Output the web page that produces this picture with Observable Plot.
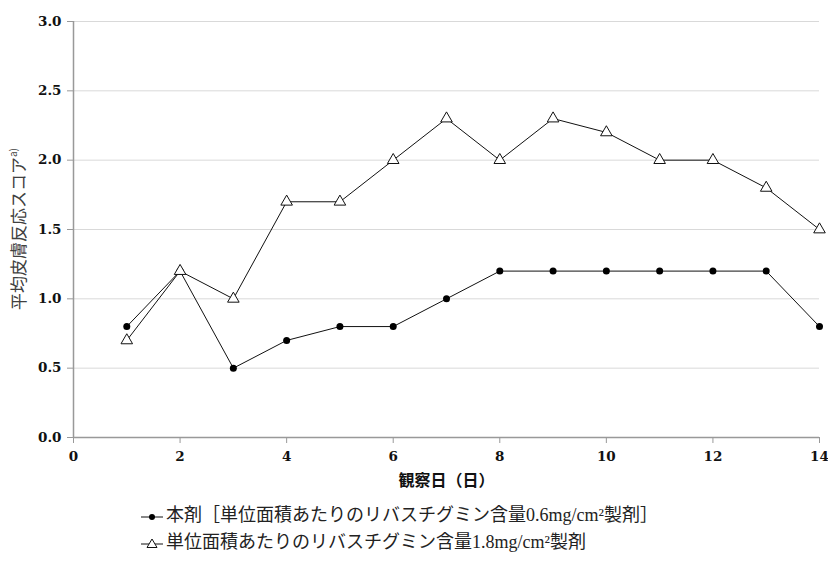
<!DOCTYPE html>
<html><head><meta charset="utf-8">
<script src="https://cdn.jsdelivr.net/npm/d3@7"></script>
<script src="https://cdn.jsdelivr.net/npm/@observablehq/plot@0.6"></script>
<style>
body{margin:0;background:#fff;}
#legend{margin-left:140px;margin-top:12px;font-family:"Liberation Serif","Noto Sans CJK JP",serif;font-size:18px;color:#222;line-height:27px;}
#legend svg{vertical-align:middle;margin-right:2px;}
</style>
</head><body>
<div id="chart"></div>
<div id="legend"></div>
<script>
const days = [1,2,3,4,5,6,7,8,9,10,11,12,13,14];
const seriesA = [0.8,1.2,0.5,0.7,0.8,0.8,1.0,1.2,1.2,1.2,1.2,1.2,1.2,0.8];
const seriesB = [0.7,1.2,1.0,1.7,1.7,2.0,2.3,2.0,2.3,2.2,2.0,2.0,1.8,1.5];
const xTicks = [0,2,4,6,8,10,12,14];
const yTicks = [0,0.5,1.0,1.5,2.0,2.5,3.0];
const nameA = "本剤［単位面積あたりのリバスチグミン含量0.6mg/cm²製剤］";
const nameB = "単位面積あたりのリバスチグミン含量1.8mg/cm²製剤";
const yLabel = "平均皮膚反応スコア";
const xLabel = "観察日（日）";

const dataA = days.map((d,i)=>({day:d, v:seriesA[i]}));
const dataB = days.map((d,i)=>({day:d, v:seriesB[i]}));

const chart = Plot.plot({
  width: 828, height: 490,
  marginLeft: 73, marginRight: 9, marginTop: 21, marginBottom: 53,
  style: {fontFamily: "'DejaVu Serif', serif", fontSize: "13.5px", fontWeight: "bold", color: "#111"},
  x: {domain: [0,14], ticks: xTicks, tickFormat: d=>d, label: null},
  y: {domain: [0,3], ticks: yTicks, tickFormat: d=>d.toFixed(1), label: null},
  marks: [
    Plot.gridY(yTicks.slice(1), {stroke: "#d9d9d9", strokeOpacity: 1, strokeWidth: 1}),
    Plot.ruleX([0], {stroke: "#999", strokeWidth: 1.5}),
    Plot.ruleY([0], {stroke: "#999", strokeWidth: 1.5}),
    Plot.axisY({ticks: yTicks, tickSize: 6, tickPadding: 6, stroke: "#999", label: null, tickFormat: d=>d.toFixed(1)}),
    Plot.axisX({ticks: xTicks, tickSize: 6, tickPadding: 8, stroke: "#999", label: null}),
    Plot.line(dataB, {x:"day", y:"v", stroke:"#111", strokeWidth:1}),
    Plot.line(dataA, {x:"day", y:"v", stroke:"#111", strokeWidth:1}),
    Plot.dot(dataA, {x:"day", y:"v", fill:"#000", r:3.5, stroke:"none"}),
    Plot.dot(dataB, {x:"day", y:"v", symbol:"triangle", fill:"#fff", stroke:"#111", strokeWidth:1, r:4.3}),
    Plot.text([xLabel], {frameAnchor:"bottom", dy: 48, text: d=>d, fontFamily:"'Noto Sans CJK JP', sans-serif", fontSize: 16, fontWeight:"bold"})
  ]
});
document.getElementById("chart").appendChild(chart);

// y-axis label with superscript
const svg = d3.select(chart);
const t = svg.append("text")
  .attr("transform", `translate(20,${21 + (490-21-53)/2}) rotate(-90)`)
  .attr("text-anchor","middle")
  .attr("dominant-baseline","middle")
  .attr("font-family","'Noto Sans CJK JP', sans-serif")
  .attr("font-size", 17)
  .attr("font-weight","normal")
  .attr("fill","#404040");
t.append("tspan").text(yLabel);
t.append("tspan").attr("font-size",10).attr("dy",-6).text("a)");

// legend
const lg = document.getElementById("legend");
function legendRow(name, kind){
  const row = document.createElement("div");
  const s = d3.create("svg").attr("width",24).attr("height",14);
  s.append("line").attr("x1",1).attr("x2",23).attr("y1",7).attr("y2",7).attr("stroke","#111").attr("stroke-width",1);
  if(kind==="dot") s.append("circle").attr("cx",12).attr("cy",7).attr("r",3).attr("fill","#000");
  else s.append("path").attr("d","M12,2 L17,10.5 L7,10.5 Z").attr("fill","#fff").attr("stroke","#111");
  row.appendChild(s.node());
  row.appendChild(document.createTextNode(name));
  lg.appendChild(row);
}
legendRow(nameA,"dot");
legendRow(nameB,"tri");
</script>
</body></html>
